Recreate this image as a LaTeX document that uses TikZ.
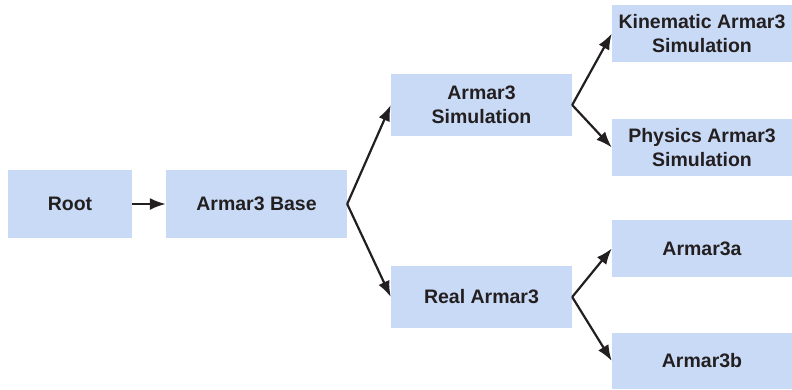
\documentclass[tikz,border=0pt]{standalone}
\usepackage{fontspec}
\setmainfont{Liberation Sans}
\usetikzlibrary{arrows.meta}
\definecolor{boxblue}{RGB}{201,218,246}
\definecolor{textgray}{RGB}{35,31,32}
\tikzset{
	stage/.style={rectangle, fill=boxblue, text=textgray, font=\fontsize{19.5}{23.5}\selectfont\bfseries, align=center, inner sep=0pt, minimum width=181pt, minimum height=62pt},
	leaf/.style={stage, minimum width=180pt, minimum height=57pt},
	link/.style={-{Latex[length=16pt,width=12pt]}, line width=2.2pt, draw=textgray}
}
\begin{document}
	\begin{tikzpicture}[x=1pt, y=-1pt]
		\useasboundingbox (0,0) rectangle (792,389);
		% first column
		\node[stage, minimum width=124pt, minimum height=68pt] (root) at (70,204) {Root};
		\node[stage, minimum height=68pt] (base) at (256.5,204) {Armar3 Base};
		% middle column
		\node[stage] (sim) at (481.5,105) {Armar3\\Simulation};
		\node[stage] (real) at (481.5,297) {Real Armar3};
		% right column
		\node[leaf] (kin) at (702,33.5) {Kinematic Armar3\\Simulation};
		\node[leaf] (phys) at (702,147.5) {Physics Armar3\\Simulation};
		\node[leaf] (armA) at (702,248.5) {Armar3a};
		\node[leaf, minimum height=56pt] (armB) at (702,361) {Armar3b};
		% connectors
		\draw[link] (root.east) -- (base.west);
		\draw[link] (base.east) -- (sim.west);
		\draw[link] (base.east) -- (real.west);
		\draw[link] (sim.east) -- (kin.west);
		\draw[link] (sim.east) -- (phys.west);
		\draw[link] (real.east) -- (armA.west);
		\draw[link] (real.east) -- (armB.west);
	\end{tikzpicture}
\end{document}
